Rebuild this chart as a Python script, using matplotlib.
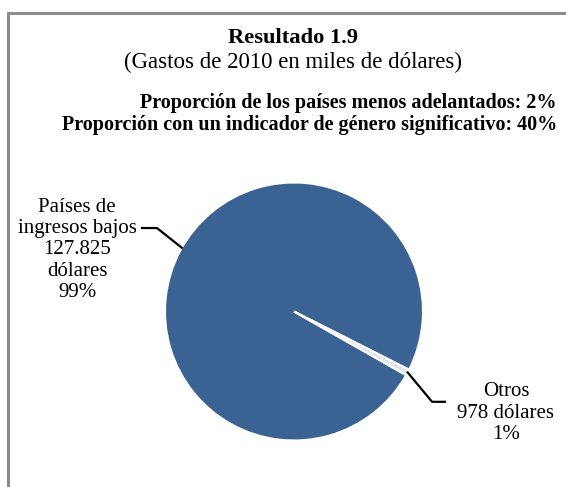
import matplotlib
matplotlib.use("Agg")
import matplotlib.pyplot as plt
import numpy as np
from matplotlib.patches import Rectangle

plt.rcParams['font.family'] = ['Liberation Serif', 'DejaVu Serif']

categories = ["Países de\ningresos bajos", "Otros"]
values = [127825, 978]
value_labels = ["127.825\ndólares", "978 dólares"]
pct_labels = ["99%", "1%"]
colors = ["#3A6293", "#DCE6F2"]

title = "Resultado 1.9"
subtitle = "(Gastos de 2010 en miles de dólares)"
notes = ["Proporción de los países menos adelantados: 2%",
         "Proporción con un indicador de género significativo: 40%"]

W, H = 566, 487
fig = plt.figure(figsize=(W / 100, H / 100), dpi=100)
fig.patch.set_facecolor("white")

# outer frame
fig.patches.append(Rectangle((8 / W, -0.1), 1.2, (H - 13) / H + 0.1, transform=fig.transFigure,
                             fill=False, edgecolor="#8C8C8C", linewidth=2.2))

fig.text(293 / W, 1 - 38 / H, title, ha="center", va="center", fontsize=16.2, fontweight="bold")
fig.text(293 / W, 1 - 62 / H, subtitle, ha="center", va="center", fontsize=16.5)
fig.text(557 / W, 1 - 103 / H, notes[0], ha="right", va="center", fontsize=14.5, fontweight="bold")
fig.text(557 / W, 1 - 125 / H, notes[1], ha="right", va="center", fontsize=14.5, fontweight="bold")

cx, cy, r = 294, 311.5, 129
ax = fig.add_axes([(cx - r) / W, (H - cy - r) / H, 2 * r / W, 2 * r / H])
total = sum(values)
start = -28.2 - 0.5 * values[1] / total * 360
wedges, _ = ax.pie(values, colors=colors, startangle=start, counterclock=False,
                   wedgeprops=dict(edgecolor="white", linewidth=1.5))
ax.set_xlim(-1, 1)
ax.set_ylim(-1, 1)
ax.axis("off")

def edge_point(theta_deg):
    t = np.deg2rad(theta_deg)
    return np.cos(t), np.sin(t)

# Otros label
w = wedges[1]
mid = 0.5 * (w.theta1 + w.theta2)
ex, ey = edge_point(mid)
ax.plot([ex, 1.07, 1.17], [ey, -0.70, -0.70], color="black", lw=1.6, clip_on=False)
ax.text(1.643, -0.787, "Otros\n" + value_labels[1] + "\n" + pct_labels[1], ha="center", va="center",
        fontsize=15, linespacing=1.15, clip_on=False)

# Países label
ex, ey = edge_point(150.4)
ax.plot([ex, -1.062, -1.178], [ey, 0.647, 0.647], color="black", lw=1.6, clip_on=False)
ax.text(-1.682, 0.477, categories[0] + "\n" + value_labels[0] + "\n" + pct_labels[0], ha="center",
        va="center", fontsize=15, linespacing=1.15, clip_on=False)

fig.savefig("out.png", dpi=100, facecolor="white")
